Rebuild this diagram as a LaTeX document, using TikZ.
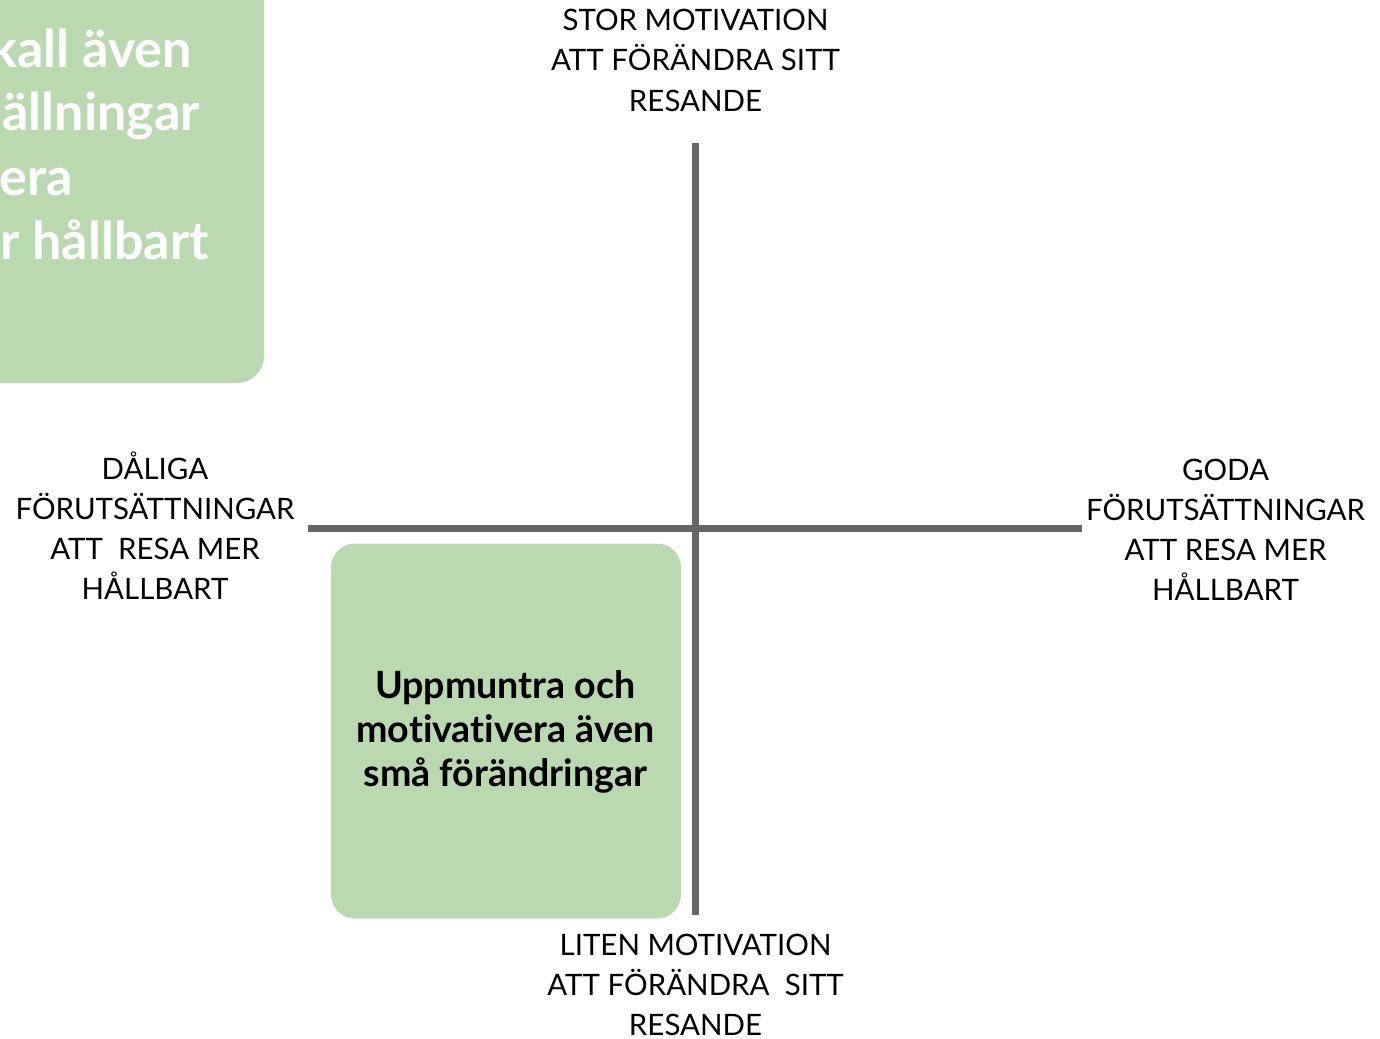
\documentclass[tikz,border=0pt]{standalone}
\usepackage{fontspec}
\setmainfont{Lato}[Ligatures=CommonOff]
\definecolor{boxgreen}{HTML}{BBD9B0}
\definecolor{axisgray}{HTML}{666666}
\begin{document}
\begin{tikzpicture}[x=1pt,y=-1pt,
  axisline/.style={draw=axisgray,line width=7pt},
  greenbox/.style={fill=boxgreen,draw=none,rounded corners=24pt,inner sep=0pt},
  lab/.style={font=\fontsize{29.5}{40}\selectfont,align=center,inner sep=0pt,anchor=base,text=black},
  boxtext/.style={font=\fontsize{37.6}{44}\selectfont\bfseries,align=center,inner sep=0pt,anchor=base,text=black},
  cuttext/.style={font=\fontsize{52}{64}\selectfont\bfseries,inner sep=0pt,anchor=base east,text=white}]
\useasboundingbox (0,0) rectangle (1380,1038);
\begin{scope}
\clip (0,0) rectangle (1380,1038);
\fill[boxgreen,rounded corners=27pt] (-60,-60) rectangle (264,383);
\node[cuttext] (c1) at (192,67.5) {kall även};
\node[cuttext] (c2) at (200,131) {ällningar};
\node[cuttext] (c3) at (73,195) {era};
\node[cuttext] (c4) at (209,259.5) {r hållbart};
\end{scope}
\coordinate (vtop) at (695,143);
\coordinate (vbot) at (695,915);
\coordinate (hleft) at (308,528.5);
\coordinate (hright) at (1082,528.5);
\node[greenbox,minimum width=350pt,minimum height=375pt] (encbox) at (506,731) {};
\draw[axisline] (vtop) -- (vbot);
\draw[axisline] (hleft) -- (hright);
\node[boxtext] (enctext) at (505.5,786.5) {Uppmuntra och\\motivativera även\\små förändringar};
\node[lab] (top) at (695.5,111) {STOR MOTIVATION\\ATT FÖRÄNDRA SITT\\RESANDE};
\node[lab] (bottom) at (695.5,1035) {LITEN MOTIVATION\\ATT FÖRÄNDRA~ SITT\\RESANDE};
\node[lab] (left) at (155,599) {DÅLIGA\\FÖRUTSÄTTNINGAR\\ATT~ RESA MER\\HÅLLBART};
\node[lab] (right) at (1225.5,600) {GODA\\FÖRUTSÄTTNINGAR\\ATT RESA MER\\HÅLLBART};
\end{tikzpicture}
\end{document}
